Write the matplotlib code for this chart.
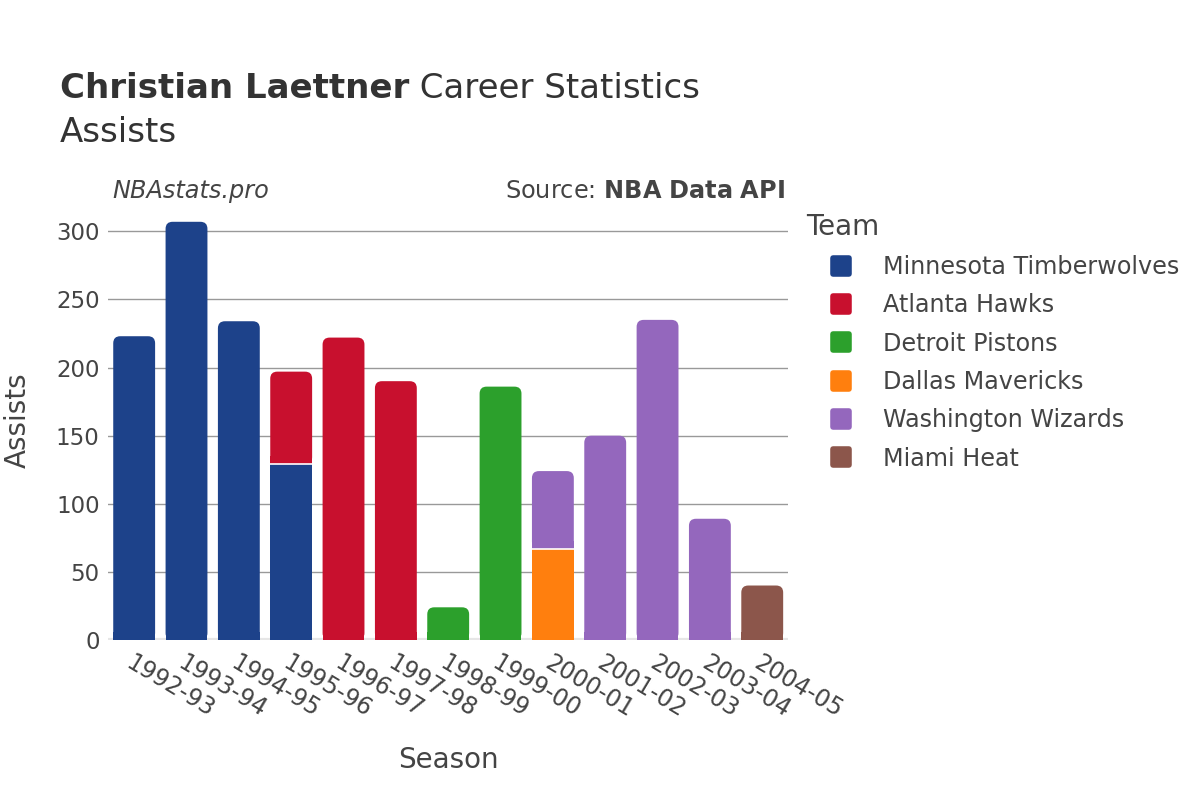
import numpy as np
import matplotlib.pyplot as plt
from matplotlib.patches import FancyBboxPatch, Rectangle
from matplotlib.lines import Line2D
from matplotlib.markers import MarkerStyle

seasons = ['1992-93', '1993-94', '1994-95', '1995-96', '1996-97', '1997-98', '1998-99',
           '1999-00', '2000-01', '2001-02', '2002-03', '2003-04', '2004-05']
teams = ['Minnesota Timberwolves', 'Atlanta Hawks', 'Detroit Pistons',
         'Dallas Mavericks', 'Washington Wizards', 'Miami Heat']
colors = ['#1d428a', '#c8102e', '#2ca02c', '#ff7f0e', '#9467bd', '#8c564b']

# assists per team per season (0 = did not play for that team)
min_ast = [223, 307, 234, 129, 0, 0, 0, 0, 0, 0, 0, 0, 0]
atl_ast = [0, 0, 0, 68, 222, 190, 0, 0, 0, 0, 0, 0, 0]
det_ast = [0, 0, 0, 0, 0, 0, 24, 186, 0, 0, 0, 0, 0]
dal_ast = [0, 0, 0, 0, 0, 0, 0, 0, 67, 0, 0, 0, 0]
was_ast = [0, 0, 0, 0, 0, 0, 0, 0, 57, 150, 235, 89, 0]
mia_ast = [0, 0, 0, 0, 0, 0, 0, 0, 0, 0, 0, 0, 40]
series = [min_ast, atl_ast, det_ast, dal_ast, was_ast, mia_ast]

txt = '#444444'
fig = plt.figure(figsize=(12, 8), dpi=100)
ax = fig.add_axes([0.09, 0.2, 0.567, 0.55])

x = np.arange(len(seasons))
w = 0.8
ymax = 323
ax.set_xlim(-0.5, len(seasons) - 0.5)
ax.set_ylim(0, ymax)

# data units per pixel, for rounded tops
ux = (len(seasons)) / 680.0
uy = ymax / 440.0
rad = 7 * ux

bottom = np.zeros(len(seasons))
totals = np.sum(np.array(series, dtype=float), axis=0)
for vals, c in zip(series, colors):
    vals = np.array(vals, dtype=float)
    bars = ax.bar(x, vals, w, bottom=bottom, color=c, edgecolor='none', zorder=3)
    for b, v, bt, tot in zip(bars, vals, bottom, totals):
        if v > 0 and np.isclose(bt + v, tot):
            b.set_visible(False)
            bx, by, bw, bh = b.get_x(), b.get_y(), b.get_width(), b.get_height()
            ax.add_patch(FancyBboxPatch((bx, by), bw, bh,
                                        boxstyle=f'round,pad=0,rounding_size={rad}',
                                        mutation_aspect=uy / ux, facecolor=c,
                                        edgecolor='none', zorder=3))
            low = min(bh / 2, 8 * uy)
            ax.add_patch(Rectangle((bx, by), bw, low, facecolor=c, edgecolor='none', zorder=3))
            if by > 0:
                ax.plot([bx, bx + bw], [by, by], color='white', linewidth=1.2, zorder=4)
    bottom += vals

ax.set_yticks([0, 50, 100, 150, 200, 250, 300])
ax.grid(axis='y', color='#999999', linewidth=1, zorder=0)
ax.axhline(0, color='#e6e6e6', linewidth=3, zorder=2)
for s in ax.spines.values():
    s.set_visible(False)
ax.tick_params(axis='y', length=0, labelsize=16.5, colors=txt, pad=6)
ax.tick_params(axis='x', length=0, labelsize=17, colors=txt, pad=8)
ax.set_xticks(x)
ax.set_xticklabels(seasons, rotation=-31, ha='left', rotation_mode='anchor')
ax.set_xlabel('Season', fontsize=20, color=txt, va='center')
ax.set_ylabel('Assists', fontsize=20, color=txt, va='center')
ax.xaxis.set_label_coords(0.5, -0.273)
ax.yaxis.set_label_coords(-0.132, 0.5)

t1 = fig.text(0.05, 0.89, 'Christian Laettner', fontsize=24.5, fontweight='bold',
              color='#333333', va='center')
fig.canvas.draw()
bb = t1.get_window_extent().transformed(fig.transFigure.inverted())
fig.text(bb.x1, 0.89, ' Career Statistics', fontsize=24.5, color='#333333', va='center')
fig.text(0.05, 0.835, 'Assists', fontsize=24.5, color='#333333', va='center')
fig.text(0.094, 0.761, 'NBAstats.pro', fontsize=17.3, style='italic', color=txt, va='center')
fig.text(0.654, 0.761, 'Source: $\\bf{NBA\\ Data\\ API}$', fontsize=17.3, color=txt,
         va='center', ha='right')

rsq = MarkerStyle('s', joinstyle='round')
handles = [Line2D([0], [0], marker=rsq, linestyle='', markersize=11.5, markerfacecolor=c,
                  markeredgecolor=c, markeredgewidth=4) for c in colors]
leg = fig.legend(handles, teams, loc='upper left', bbox_to_anchor=(0.664, 0.746), frameon=False,
                 title='Team', fontsize=17.2, title_fontsize=20, labelspacing=0.6,
                 handlelength=2.9, handletextpad=0.3, alignment='left', borderaxespad=0)
for t in leg.get_texts():
    t.set_color(txt)
leg.get_title().set_color(txt)

fig.savefig('out.png', dpi=100)
